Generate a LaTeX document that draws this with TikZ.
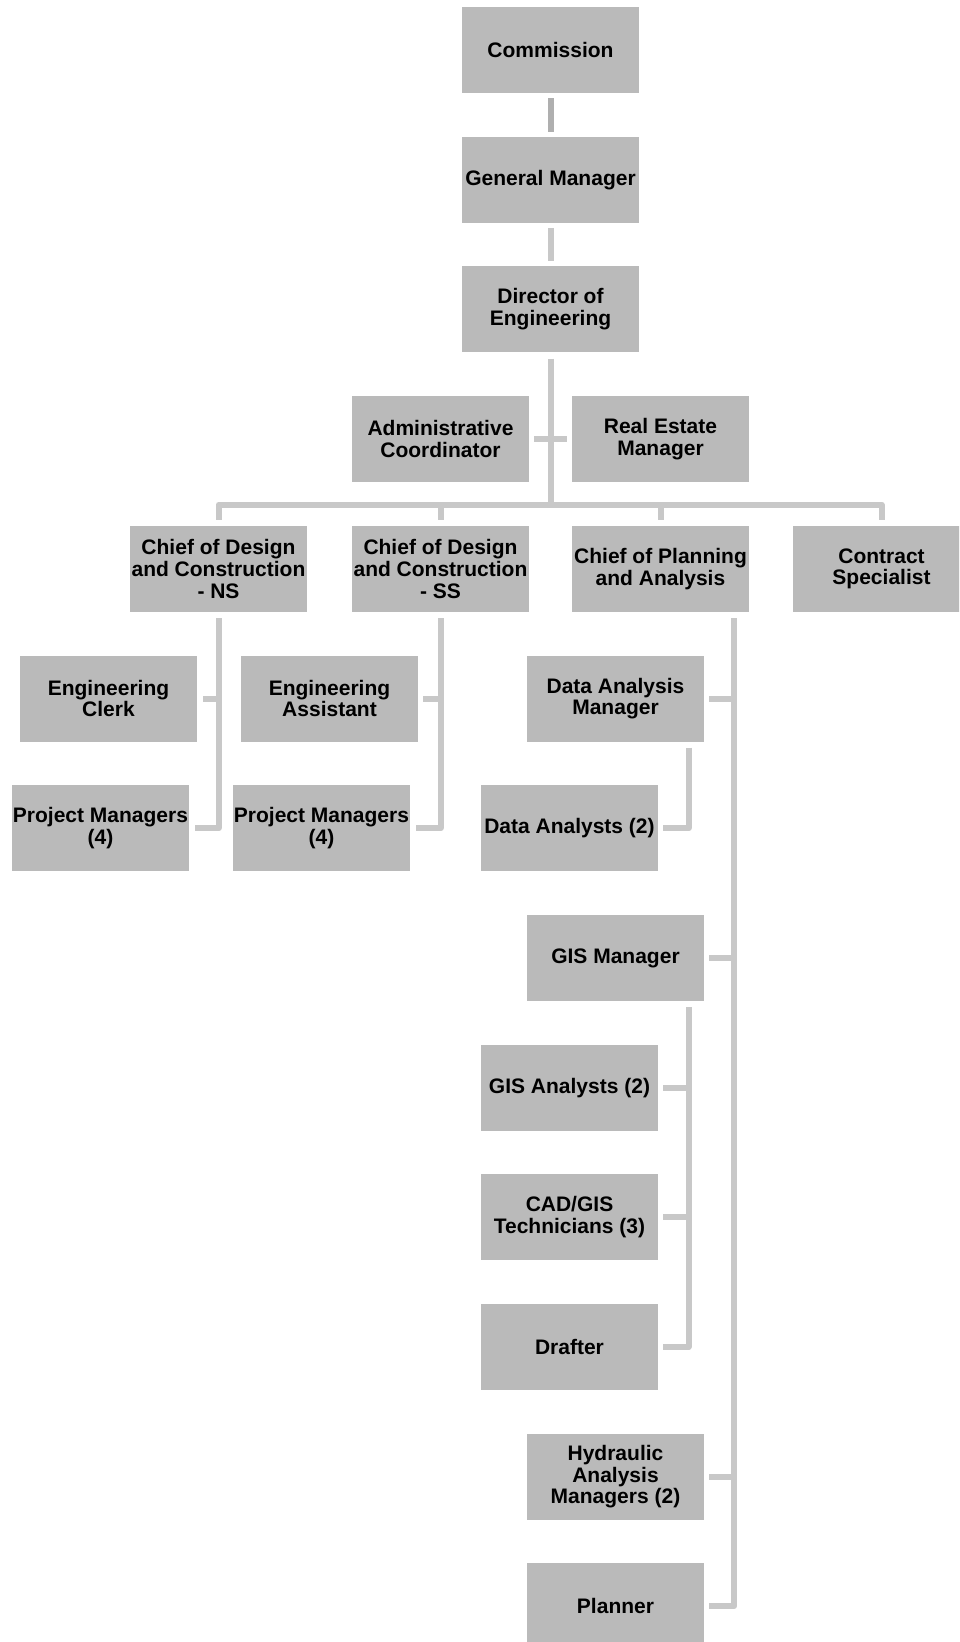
\documentclass[tikz,border=0pt]{standalone}
\usepackage{fontspec}
\setmainfont{Liberation Sans}
\definecolor{boxgray}{RGB}{186,186,186}
\definecolor{linegray}{RGB}{200,200,200}
\definecolor{topline}{RGB}{175,175,175}
\begin{document}
\begin{tikzpicture}[x=1pt,y=-1pt,
  unit/.style={fill=boxgray, minimum width=177pt, minimum height=86pt,
    inner sep=0pt, align=center,
    font=\bfseries\fontsize{21}{21.7}\selectfont},
  conn/.style={draw=linegray, line width=6pt, line join=round}]
\path[use as bounding box] (0,0) rectangle (959,1642);
\clip (0,0) rectangle (959,1642);

% top of the chain
\node[unit] (com) at (550.5,50)    {Commission};
\node[unit] (gm)  at (550.5,179.7) {General Manager};
\node[unit] (dir) at (550.5,309.4) {Director of\\Engineering};

% staff to the director
\node[unit] (adm) at (440.5,439.1) {Administrative\\Coordinator};
\node[unit] (re)  at (660.5,439.1) {Real Estate\\Manager};

% chiefs
\node[unit] (ns)  at (218.5,568.8) {Chief of Design\\and Construction\\- NS};
\node[unit] (ss)  at (440.5,568.8) {Chief of Design\\and Construction\\- SS};
\node[unit] (cpa) at (660.5,568.8) {Chief of Planning\\and Analysis};
\node[unit] (cs)  at (881.5,568.8) {Contract\\Specialist};

% design and construction - NS
\node[unit] (clerk) at (108.5,698.5) {Engineering\\Clerk};
\node[unit] (pmn)   at (100.5,828.2) {Project Managers\\(4)};

% design and construction - SS
\node[unit] (asst) at (329.5,698.5) {Engineering\\Assistant};
\node[unit] (pms)  at (321.5,828.2) {Project Managers\\(4)};

% planning and analysis
\node[unit] (dam)  at (615.5,698.5)  {Data Analysis\\Manager};
\node[unit] (da)   at (569.5,828.2)  {Data Analysts (2)};
\node[unit] (gism) at (615.5,957.9)  {GIS Manager};
\node[unit] (gisa) at (569.5,1087.6) {GIS Analysts (2)};
\node[unit] (cad)  at (569.5,1217.3) {CAD/GIS\\Technicians (3)};
\node[unit] (draf) at (569.5,1347)   {Drafter};
\node[unit] (hyd)  at (615.5,1476.7) {Hydraulic\\Analysis\\Managers (2)};
\node[unit] (plan) at (615.5,1606.4) {Planner};

% chain of command
\draw[conn, draw=topline] ([yshift=-5pt]com.south) -- ([yshift=5pt]gm.north);
\draw[conn] ([yshift=-5pt]gm.south) -- ([yshift=5pt]dir.north);

% director trunk and bus to the chiefs
\coordinate (bus) at (550.5,504.5);
\draw[conn] ([yshift=-6pt]dir.south) -- (bus);
\draw[conn] ([xshift=5pt]adm.east) -- ([xshift=-5pt]re.west);
\draw[conn] ([yshift=6pt]ns.north) |- (bus) -| ([yshift=6pt]cs.north);
\draw[conn] ([yshift=6pt]ss.north) -- (ss.north |- bus);
\draw[conn] ([yshift=6pt]cpa.north) -- (cpa.north |- bus);

% NS branch
\draw[conn] ([yshift=-6pt]ns.south) |- ([xshift=6pt]pmn.east);
\draw[conn] ([xshift=6pt]clerk.east) -- (clerk.east -| ns.south);

% SS branch
\draw[conn] ([yshift=-6pt]ss.south) |- ([xshift=6pt]pms.east);
\draw[conn] ([xshift=5pt]asst.east) -- (asst.east -| ss.south);

% planning trunk
\coordinate (ptop) at ([xshift=73.5pt,yshift=-6pt]cpa.south);
\draw[conn] (ptop) |- ([xshift=5pt]plan.east);
\draw[conn] ([xshift=5pt]dam.east) -- (dam.east -| ptop);
\draw[conn] ([xshift=5pt]gism.east) -- (gism.east -| ptop);
\draw[conn] ([xshift=5pt]hyd.east) -- (hyd.east -| ptop);

% data analysis group
\draw[conn] ([xshift=73pt,yshift=-6pt]dam.south) |- ([xshift=5pt]da.east);

% GIS group
\coordinate (gtop) at ([xshift=73pt,yshift=-6pt]gism.south);
\draw[conn] (gtop) |- ([xshift=5pt]draf.east);
\draw[conn] ([xshift=5pt]gisa.east) -- (gisa.east -| gtop);
\draw[conn] ([xshift=5pt]cad.east) -- (cad.east -| gtop);
\end{tikzpicture}
\end{document}
